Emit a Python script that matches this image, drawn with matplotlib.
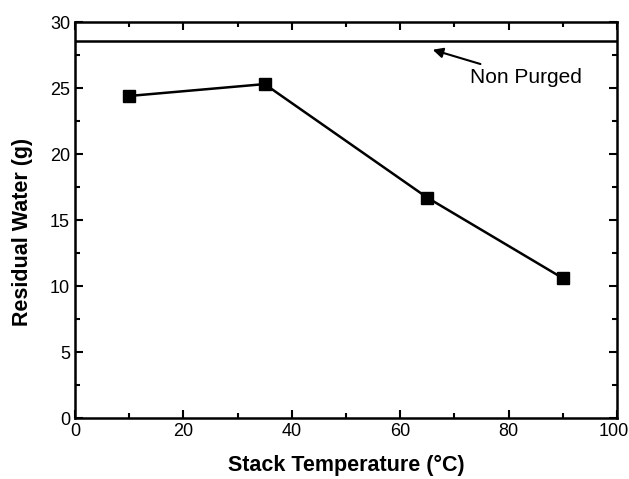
import matplotlib
matplotlib.use("Agg")
import matplotlib.pyplot as plt
from matplotlib.ticker import MultipleLocator, FixedFormatter

plt.rcParams['font.family'] = ['Liberation Sans', 'DejaVu Sans']

# data
temperatura = [10, 35, 65, 90]
agua_residual = [24.4, 25.3, 16.7, 10.6]
nao_purgado = 28.6
x_ticks = [0, 20, 40, 60, 80, 100]
x_rotulos = ["0", "20", "40", "60", "80", "100"]

fig = plt.figure(figsize=(6.29, 4.79), dpi=100)
ax = fig.add_axes([0.119, 0.127, 0.862, 0.827])

ax.plot(temperatura, agua_residual, color="black", linewidth=1.8,
        marker="s", markersize=8)
ax.axhline(nao_purgado, color="black", linewidth=1.8)

ax.annotate("Non Purged", xy=(66.0, 27.9), xytext=(72.8, 25.8),
            fontsize=15, va="center",
            arrowprops=dict(arrowstyle="-|>", color="black", lw=1.5,
                            mutation_scale=15, shrinkA=3, shrinkB=0))

ax.set_xlim(0, 100)
ax.set_ylim(0, 30)
ax.set_xticks(x_ticks)
# o ultimo rotulo vai a parte, um pouco para dentro da borda
ax.set_xticklabels(x_rotulos[:-1] + [""])
ax.annotate(x_rotulos[-1], xy=(x_ticks[-1], 0), xycoords=("data", "axes fraction"),
            xytext=(-2.5, -3.5), textcoords="offset points",
            ha="center", va="top", fontsize=13)
ax.xaxis.set_minor_locator(MultipleLocator(10))
ax.yaxis.set_major_locator(MultipleLocator(5))
ax.yaxis.set_minor_locator(MultipleLocator(2.5))
ax.tick_params(which="both", direction="in", top=True, right=True,
               labelsize=13, width=1.5)
ax.tick_params(which="major", length=6)
ax.tick_params(which="minor", length=3.5)
for s in ax.spines.values():
    s.set_linewidth(1.8)

ax.set_xlabel("Stack Temperature (°C)", fontsize=15.5, fontweight="bold", labelpad=11)
ax.set_ylabel("Residual Water (g)", fontsize=15.5, fontweight="bold")
# o rotulo do eixo y fica um pouco abaixo do centro
ax.yaxis.set_label_coords(-0.077, 0.47)

fig.savefig("out.png", dpi=100)
